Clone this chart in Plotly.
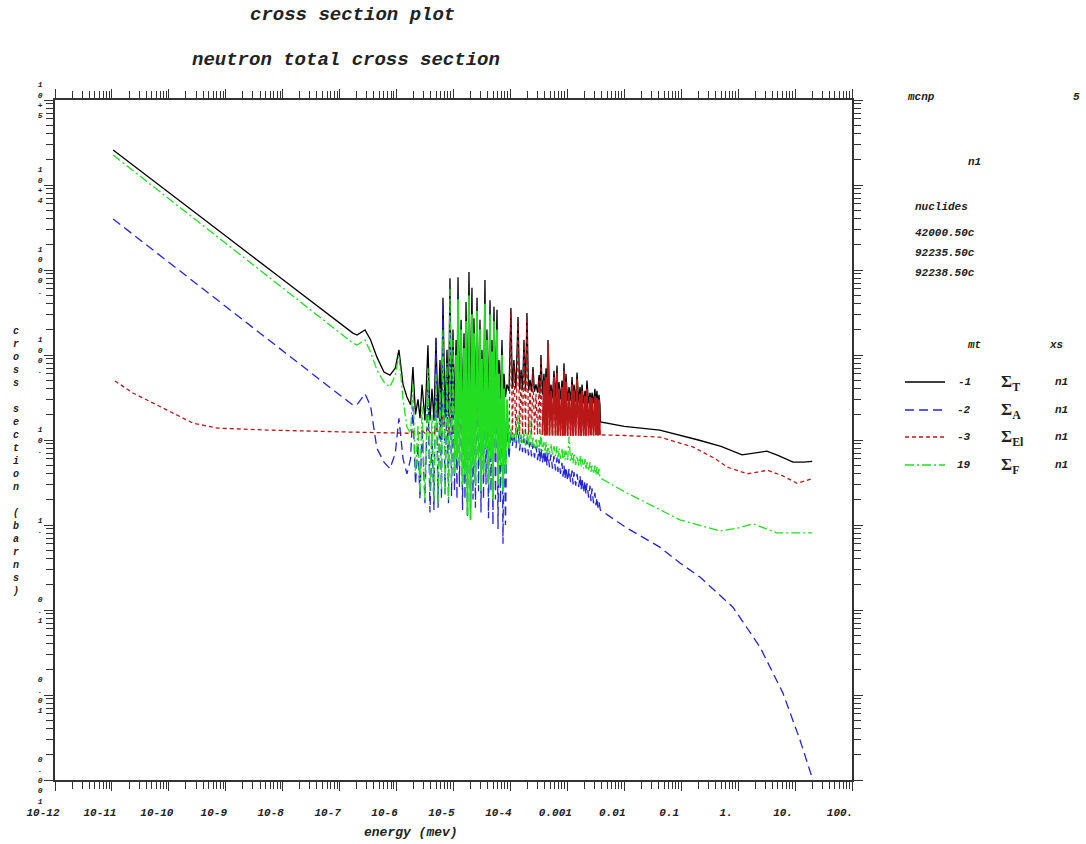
import plotly.graph_objects as go

# ---------------- data (energy in MeV, cross section in barns) ----------------
lowE_E = [1.05e-11, 1e-10, 1e-9, 1e-8, 1e-7, 1.71e-7, 2.02e-7, 2.79e-7, 3.5e-7,
          4.5e-7, 6e-7, 7.65e-7, 9.5e-7, 1.1e-6, 1.3e-6, 1.52e-6]
tot_lowE = [2.58e4, 8050, 2510, 771, 238, 181, 172, 197, 150, 95, 63, 58, 70, 115, 45, 32]
abs_lowE = [3980, 1225, 370, 111, 33.8, 25.8, 26, 35, 25, 8, 5.5, 4.6, 7, 18, 6, 4]
fis_lowE = [2.25e4, 6840, 2050, 614, 183, 138, 131, 150, 108, 67, 48, 42, 58, 100, 30, 14.2]
el_lowE_E = [1.13e-11, 2.34e-11, 9.3e-11, 2.65e-10, 7e-10, 5.3e-9, 1.52e-7, 1.15e-6, 1.52e-6]
el_lowE = [49.4, 35.7, 22.5, 15.8, 13.8, 13.1, 12.4, 11.9, 12]

# resolved resonance region A (valley / peak alternating)
resA_E = [1.76e-6, 1.94e-6, 2.15e-6, 2.38e-6, 2.58e-6, 2.80e-6, 3.15e-6, 3.56e-6, 3.86e-6, 4.19e-6,
          4.54e-6, 4.92e-6, 5.35e-6, 5.79e-6, 6.15e-6, 6.53e-6, 7.10e-6, 7.69e-6, 8.17e-6, 8.67e-6,
          9.23e-6, 9.80e-6, 1.04e-5, 1.11e-5, 1.15e-5, 1.20e-5, 1.27e-5, 1.36e-5, 1.44e-5, 1.53e-5,
          1.59e-5, 1.66e-5, 1.76e-5, 1.87e-5, 1.99e-5, 2.11e-5, 2.20e-5, 2.29e-5, 2.43e-5, 2.59e-5,
          2.75e-5, 2.92e-5, 3.04e-5, 3.16e-5, 3.37e-5, 3.57e-5, 3.72e-5, 3.87e-5, 4.12e-5, 4.38e-5,
          4.55e-5, 4.74e-5, 4.93e-5, 5.14e-5, 5.46e-5, 5.81e-5, 6.05e-5, 6.30e-5, 6.68e-5, 7.11e-5,
          7.40e-5, 7.71e-5, 8.18e-5, 8.69e-5, 9.44e-5]
tot_resA = [26, 72, 20, 30, 18, 45, 17, 130, 17, 40,
            17, 160, 18, 87, 17, 470, 18, 115, 19, 800,
            18, 200, 20, 150, 19, 820, 20, 260, 21, 180,
            20, 420, 22, 950, 21, 620, 22, 270, 23, 470,
            22, 260, 24, 115, 23, 760, 25, 200, 24, 440,
            26, 150, 25, 370, 27, 340, 28, 87, 30, 150,
            30, 60, 32, 45, 38]
fis_resA = [12, 45, 4, 15, 2.2, 25, 2.0, 70, 2.5, 20,
            2.0, 60, 1.8, 40, 2.6, 200, 2.2, 80, 2.0, 600,
            3.0, 150, 4, 100, 6, 450, 5, 200, 3, 120,
            4, 250, 1.3, 500, 1.15, 300, 5, 180, 3, 330,
            6, 200, 2.5, 90, 4, 400, 8, 150, 3, 300,
            6, 110, 2, 250, 7, 200, 3, 60, 5, 100,
            2.5, 40, 4, 30, 8]
abs_resA = [6, 25, 3, 9, 2.0, 14, 1.8, 50, 1.4, 12,
            1.5, 160, 1.6, 35, 2.0, 410, 2.3, 40, 1.8, 300,
            2.2, 60, 2.5, 70, 2.0, 500, 2.8, 90, 1.5, 60,
            2.0, 180, 1.2, 350, 1.5, 200, 2.0, 100, 1.6, 150,
            2.5, 80, 1.4, 40, 2.0, 250, 3.0, 70, 1.2, 150,
            2.5, 50, 1.0, 120, 2.0, 100, 0.9, 30, 1.8, 50,
            0.6, 20, 1.0, 15, 6]
el_resA = [12, 12.5, 12, 12.5, 12, 13, 12, 14, 12, 12.5,
           12, 14, 12, 13, 11.5, 20, 12, 13, 12, 25,
           12, 14, 12, 13, 12, 20, 12, 15, 12, 14,
           12, 16, 12, 25, 12, 20, 12, 16, 12, 60,
           12, 30, 12, 18, 11.5, 150, 12, 25, 12, 60,
           12, 20, 12, 80, 12, 90, 12, 20, 12, 40,
           12, 18, 12, 15, 11.5]

# resonance region B (peak / valley alternating)
resB_E = [1.02e-4, 1.08e-4, 1.15e-4, 1.25e-4, 1.36e-4, 1.45e-4, 1.54e-4, 1.63e-4, 1.73e-4, 1.84e-4,
          1.95e-4, 2.08e-4, 2.21e-4, 2.35e-4, 2.49e-4, 2.65e-4, 2.81e-4, 3.00e-4, 3.18e-4, 3.30e-4,
          3.44e-4, 3.66e-4, 3.88e-4, 4.05e-4, 4.22e-4, 4.39e-4, 4.57e-4, 4.85e-4, 5.15e-4, 5.48e-4,
          5.82e-4, 6.19e-4, 6.58e-4, 6.85e-4, 7.13e-4, 7.58e-4, 8.05e-4, 8.38e-4, 8.73e-4, 9.10e-4,
          9.46e-4, 1.01e-3, 1.07e-3, 1.14e-3, 1.21e-3, 1.26e-3, 1.31e-3, 1.40e-3, 1.48e-3, 1.58e-3,
          1.67e-3, 1.74e-3, 1.81e-3, 1.93e-3, 2.04e-3, 2.12e-3, 2.21e-3, 2.36e-3, 2.50e-3, 2.60e-3,
          2.71e-3, 2.88e-3, 3.05e-3, 3.18e-3, 3.31e-3, 3.45e-3, 3.59e-3, 3.74e-3]
tot_resB = [357, 40, 87, 40, 280, 39, 67, 39, 150, 38,
            312, 38, 51, 37, 72, 37, 45, 36, 58, 35,
            100, 34, 60, 33, 70, 32, 150, 32, 45, 31,
            65, 31, 75, 30, 48, 30, 50, 30, 80, 29,
            60, 29, 42, 29, 55, 28, 45, 28, 62, 28,
            42, 28, 45, 27, 38, 27, 50, 27, 36, 27,
            36, 27, 40, 26, 38, 26, 34, 26]
el_resB = [320, 11.5, 75, 11.5, 250, 11.5, 60, 11.5, 135, 11.5,
           280, 11.5, 45, 11.5, 65, 11.5, 35, 11.5, 52, 11.5,
           90, 11.5, 50, 11.3, 55, 11.3, 135, 11.3, 38, 11.2,
           55, 11.2, 62, 11.2, 40, 11.2, 42, 11.2, 65, 11.2,
           48, 11.2, 36, 11.2, 45, 11.2, 38, 11.2, 52, 11.2,
           35, 11.2, 38, 11.2, 33, 11.2, 40, 11.2, 32, 11.3,
           31, 11.3, 33, 11.3, 31, 11.3, 30, 11.4]
fis_resB = [14, 9.5, 12, 9.2, 20, 9.0, 12, 8.8, 13, 8.6,
            12, 8.4, 17, 8.2, 11, 8.0, 10.5, 7.8, 10, 7.6,
            12, 7.4, 9.5, 7.2, 9.5, 7.0, 9, 6.8, 9, 6.6,
            8.5, 6.4, 8.5, 6.2, 8, 6.0, 8, 5.9, 7.5, 5.8,
            7.5, 5.6, 11, 5.5, 7, 5.3, 7, 5.1, 6.5, 5.0,
            6.5, 4.8, 6, 4.6, 6, 4.5, 5.5, 4.3, 5.5, 4.2,
            5, 4.0, 5, 3.9, 4.8, 3.8, 4.6, 3.6]
abs_resB = [13, 8.5, 12, 8.0, 14, 7.5, 11, 7.2, 10.5, 7.0,
            10, 6.6, 9.5, 6.4, 9, 6.2, 8.5, 5.8, 8, 5.6,
            8, 5.4, 7.5, 5.2, 7.2, 5.0, 7, 4.8, 6.8, 4.6,
            6.5, 4.4, 6.2, 4.2, 6, 4.0, 5.4, 3.7, 5.0, 3.5,
            4.8, 3.3, 4.6, 3.2, 4.4, 3.0, 4.2, 2.9, 4.0, 2.8,
            3.8, 2.6, 3.6, 2.4, 3.3, 2.3, 3.1, 2.1, 2.9, 1.9,
            2.7, 1.8, 2.4, 1.7, 2.1, 1.6, 1.9, 1.5]

# fast region
tot_hiE_E = [3.8e-3, 0.01, 0.042, 0.2, 0.5, 1.17, 2.0, 3.2, 5.0, 9.2, 14, 20]
tot_hiE = [16.3, 14.5, 13.1, 10, 8.4, 6.7, 7.1, 7.4, 6.6, 5.5, 5.5, 5.6]
el_hiE_E = [3.8e-3, 0.01, 0.042, 0.16, 0.4, 0.64, 1.43, 2.2, 3.3, 6.0, 10.8, 20]
el_hiE = [11.5, 11.3, 10.8, 8.3, 6.0, 4.8, 4.0, 4.2, 4.4, 3.8, 3.1, 3.5]
fis_hiE_E = [3.8e-3, 0.0111, 0.042, 0.095, 0.48, 1.0, 1.82, 4.8, 20]
fis_hiE = [3.57, 2.38, 1.5, 1.15, 0.85, 0.92, 1.03, 0.81, 0.81]
abs_hiE_E = [3.8e-3, 0.0111, 0.042, 0.095, 0.214, 0.81, 2.42, 6.1, 12.2, 20]
abs_hiE = [1.5, 0.92, 0.55, 0.357, 0.244, 0.108, 0.0367, 0.0106, 0.00296, 0.00106]

# axis labels / text
x_tick_exp = list(range(-12, 3))
x_tick_text = ["10-12", "10-11", "10-10", "10-9", "10-8", "10-7", "10-6", "10-5",
               "10-4", "0.001", "0.01", "0.1", "1.", "10.", "100."]
y_tick_exp = list(range(-3, 6))
y_tick_text = ["0.001", "0.01", "0.1", "1.", "10.", "100.", "1000.", "10+4", "10+5"]
nuclides = ["42000.50c", "92235.50c", "92238.50c"]
mt_codes = ["-1", "-2", "-3", "19"]
sigma_subs = ["T", "A", "El", "F"]
xs_names = ["n1", "n1", "n1", "n1"]

# ---------------- styling ----------------
colors = ["#000000", "#2424d8", "#b81818", "#22dd22"]
dashes = ["solid", "9px,5px", "4px,3px", "9px,3px,2px,3px"]
MONO = "Liberation Mono"

series = [
    (lowE_E + resA_E + resB_E + tot_hiE_E, tot_lowE + tot_resA + tot_resB + tot_hiE),
    (lowE_E + resA_E + resB_E + abs_hiE_E, abs_lowE + abs_resA + abs_resB + abs_hiE),
    (el_lowE_E + resA_E + resB_E + el_hiE_E, el_lowE + el_resA + el_resB + el_hiE),
    (lowE_E + resA_E + resB_E + fis_hiE_E, fis_lowE + fis_resA + fis_resB + fis_hiE),
]

fig = go.Figure()
for idx, ((ex, ys), c, d, name) in enumerate(zip(series, colors, dashes, sigma_subs)):
    fig.add_trace(go.Scatter(x=ex, y=ys, mode="lines", name=name,
                             line=dict(color=c, width=1.3, dash=d), showlegend=False))
    # dense resonance bands drawn solid, as they appear filled in the original
    if idx == 2:
        fig.add_trace(go.Scatter(x=resB_E[21:], y=el_resB[21:], mode="lines",
                                 line=dict(color=c, width=1.8), showlegend=False))
    if idx == 3:
        fig.add_trace(go.Scatter(x=resA_E[22:], y=fis_resA[22:], mode="lines",
                                 line=dict(color=c, width=1.8), showlegend=False))

L, R, T, B = 55, 852, 100, 780
W, H = 1086, 844


def px(x):
    return (x - L) / (R - L)


def py(y):
    return (B - y) / (B - T)


tickfont = dict(family=MONO, size=11, color="#222", weight="bold", style="italic")
x_minor = [m * 10.0 ** e for e in range(-12, 2) for m in range(2, 10)]
y_minor = [m * 10.0 ** e for e in range(-3, 5) for m in range(2, 10)]

fig.update_xaxes(type="log", range=[-12, 2], showgrid=False, zeroline=False,
                 showline=True, linecolor="#333", linewidth=1.5, mirror="ticks",
                 ticks="outside", ticklen=9, tickwidth=1.2, tickcolor="#333",
                 tickmode="array", tickvals=[10.0 ** e for e in x_tick_exp],
                 ticktext=x_tick_text, tickfont=tickfont, tickangle=0,
                 ticklabelstandoff=12, ticklabelshift=-12,
                 minor=dict(tickmode="array", tickvals=x_minor, ticks="outside",
                            ticklen=7, tickwidth=1.2, tickcolor="#333", showgrid=False))
fig.update_yaxes(type="log", range=[-3, 5], showgrid=False, zeroline=False,
                 showline=True, linecolor="#333", linewidth=1.5, mirror="ticks",
                 ticks="outside", ticklen=9, tickwidth=1.2, tickcolor="#333",
                 tickmode="array", tickvals=[10.0 ** e for e in y_tick_exp],
                 ticktext=["<br>".join(list(t)) for t in y_tick_text],
                 tickfont=dict(family=MONO, size=8, color="#222", weight="bold", style="italic"),
                 minor=dict(tickmode="array", tickvals=y_minor, ticks="outside",
                            ticklen=7, tickwidth=1.2, tickcolor="#333", showgrid=False))

ann = []


def text(x, y, s, size=11, xanchor="left", family=MONO, bold=True, italic=True):
    ann.append(dict(x=px(x), y=py(y), xref="paper", yref="paper", text=s,
                    showarrow=False, xanchor=xanchor, yanchor="middle",
                    font=dict(family=family, size=size, color="#222",
                              weight="bold" if bold else "normal",
                              style="italic" if italic else "normal")))


text(352, 15, "cross section plot", size=19, xanchor="center")
text(346, 60, "neutron total cross section", size=19, xanchor="center")
text(411, 832, "energy (mev)", size=13, xanchor="center")
text(16, 461, "<br>".join(list("cross section (barns)")), size=10, xanchor="center")

text(905, 97, "mcnp", size=11)
text(1082, 97, "5", size=11, xanchor="right")
text(974, 162, "n1", size=11, xanchor="center")
text(913, 207, "nuclides", size=11)
for i, nuc in enumerate(nuclides):
    text(913, 233 + 20 * i, nuc, size=11)
text(965, 345, "mt", size=11)
text(1047, 345, "xs", size=11)

shapes = []
row_y = [382, 410, 437, 465]
for i in range(4):
    shapes.append(dict(type="line", xref="paper", yref="paper",
                       x0=px(905), x1=px(945), y0=py(row_y[i]), y1=py(row_y[i]),
                       line=dict(color=colors[i], width=1.5, dash=dashes[i])))
    text(973, row_y[i], mt_codes[i], size=11, xanchor="right")
    text(999, row_y[i] + 1, "Σ<sub>" + sigma_subs[i] + "</sub>", size=17,
         family="Liberation Serif", italic=False)
    text(1053, row_y[i], xs_names[i], size=11)

fig.update_layout(width=W, height=H, margin=dict(l=L, r=W - R, t=T, b=H - B),
                  paper_bgcolor="white", plot_bgcolor="white",
                  annotations=ann, shapes=shapes)

fig.write_html("out.html")
